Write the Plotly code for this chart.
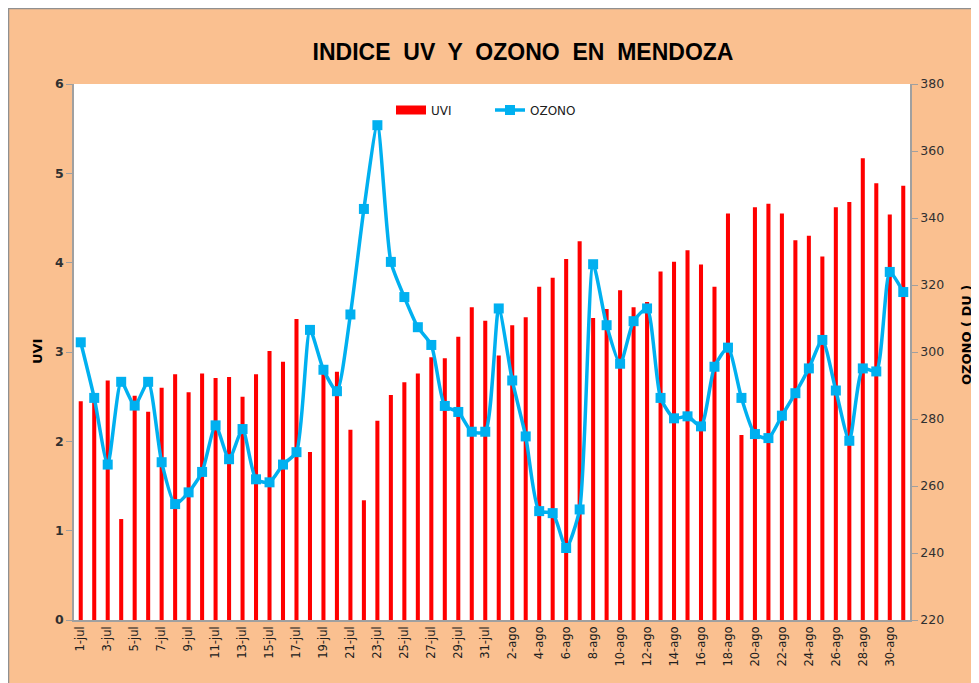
import plotly.graph_objects as go
from plotly.subplots import make_subplots

days = [f"{d}-jul" for d in range(1, 32)] + [f"{d}-ago" for d in range(1, 32)]

uvi = [2.45, 2.48, 2.68, 1.13, 2.51, 2.33, 2.60, 2.75, 2.55, 2.76,
       2.71, 2.72, 2.50, 2.75, 3.01, 2.89, 3.37, 1.88, 2.80, 2.78,
       2.13, 1.34, 2.23, 2.52, 2.66, 2.76, 2.94, 2.93, 3.17, 3.50,
       3.35, 2.96, 3.30, 3.39, 3.73, 3.83, 4.04, 4.24, 3.38, 3.48,
       3.69, 3.50, 3.56, 3.90, 4.01, 4.14, 3.98, 3.73, 4.55, 2.07,
       4.62, 4.66, 4.55, 4.25, 4.30, 4.07, 4.62, 4.68, 5.17, 4.89,
       4.54, 4.86]

ozono = [302.9, 286.3, 266.4, 291.1, 284.0, 291.1, 267.1, 254.6, 258.1, 264.2,
         278.1, 268.0, 277.0, 262.0, 261.1, 266.4, 270.1, 306.6, 294.7, 288.3,
         311.2, 342.7, 367.7, 326.9, 316.4, 307.4, 302.1, 283.9, 282.1, 276.2,
         276.2, 313.0, 291.5, 274.8, 252.5, 251.9, 241.5, 253.0, 326.2, 308.0,
         296.5, 309.2, 313.0, 286.3, 280.2, 280.8, 277.8, 295.6, 301.3, 286.3,
         275.5, 274.3, 281.0, 287.7, 295.1, 303.6, 288.5, 273.5, 295.1, 294.2,
         323.9, 317.9]

tick_labels = days[::2]

ORANGE = "#FAC090"
BLUE = "#00B0F0"
RED = "#FF0000"
AXIS = "#A0A0A0"
FONT = "DejaVu Sans"

fig = make_subplots(specs=[[{"secondary_y": True}]])

fig.add_trace(go.Bar(x=days, y=uvi, name="UVI", showlegend=False,
                     marker=dict(color=RED, line=dict(width=0))),
              secondary_y=False)
# legend-only entry with a wide red swatch
fig.add_trace(go.Scatter(x=[None], y=[None], name="UVI", mode="lines",
                         line=dict(color=RED, width=9)),
              secondary_y=False)
fig.add_trace(go.Scatter(x=days, y=ozono, name="OZONO", mode="lines+markers",
                         line=dict(color=BLUE, width=3.5, shape="spline", smoothing=0.6),
                         marker=dict(symbol="square", size=10, color=BLUE)),
              secondary_y=True)

# figure pixel coordinates (page adds an 8px offset)
W, H = 979, 683
L, T = 66, 76
PR, PB = 902, 612
R, B = W - PR, H - PB
pw, ph = PR - L, PB - T

def px_x(p):
    return (p - L) / pw

def px_y(q):
    return (PB - q) / ph

fig.update_layout(
    width=W, height=H,
    margin=dict(l=L, r=R, t=T, b=B, pad=0, autoexpand=False),
    paper_bgcolor=ORANGE,
    plot_bgcolor="white",
    bargap=0.7,
    showlegend=True,
    legend=dict(orientation="h", x=px_x(383), y=px_y(102), xanchor="left", yanchor="middle",
                bgcolor="rgba(0,0,0,0)", font=dict(family=FONT, size=12, color="#202020"),
                itemwidth=30, entrywidth=54, traceorder="normal", tracegroupgap=0),
    title=dict(text="<b>INDICE  UV  Y  OZONO  EN  MENDOZA</b>", x=515 / W, xanchor="center",
               y=1 - 44 / H, yanchor="middle",
               font=dict(family="Liberation Sans", size=23, color="#000000")),
    shapes=[dict(type="rect", xref="paper", yref="paper",
                 x0=px_x(0.5), x1=px_x(W + 5), y0=px_y(H + 5), y1=px_y(0.5),
                 fillcolor="rgba(0,0,0,0)", line=dict(color="#909090", width=1.5), layer="below")],
    annotations=[
        dict(text="<b>UVI</b>", xref="paper", yref="paper", x=px_x(29), y=px_y(344),
             xanchor="center", yanchor="middle",
             textangle=-90, showarrow=False, font=dict(family=FONT, size=13, color="#000000")),
        dict(text="<b>OZONO ( DU )</b>", xref="paper", yref="paper", x=px_x(958), y=px_y(327),
             xanchor="center", yanchor="middle",
             textangle=-90, showarrow=False, font=dict(family=FONT, size=13, color="#000000")),
    ],
)

fig.update_xaxes(type="category", tickmode="array", tickvals=tick_labels, ticktext=tick_labels,
                 tickangle=-90, tickfont=dict(family=FONT, size=11.5, color="#202020"),
                 showline=True, linecolor=AXIS, linewidth=1.5, ticks="", showgrid=False,
                 range=[-0.5, 61.5], automargin=False, domain=[0, 1])
fig.update_yaxes(range=[0, 6], dtick=1, showgrid=False, showline=True, linecolor=AXIS,
                 linewidth=1.5, ticks="outside", ticklen=6, tickcolor=AXIS,
                 tickfont=dict(family=FONT, size=12.5, color="#303030", weight="bold"),
                 zeroline=False, automargin=False, secondary_y=False)
fig.update_yaxes(range=[220, 380], dtick=20, showgrid=False, showline=True, linecolor=AXIS,
                 linewidth=1.5, ticks="outside", ticklen=6, tickcolor=AXIS,
                 tickfont=dict(family=FONT, size=12.5, color="#303030"),
                 zeroline=False, automargin=False, secondary_y=True)

fig.write_html("out.html")
